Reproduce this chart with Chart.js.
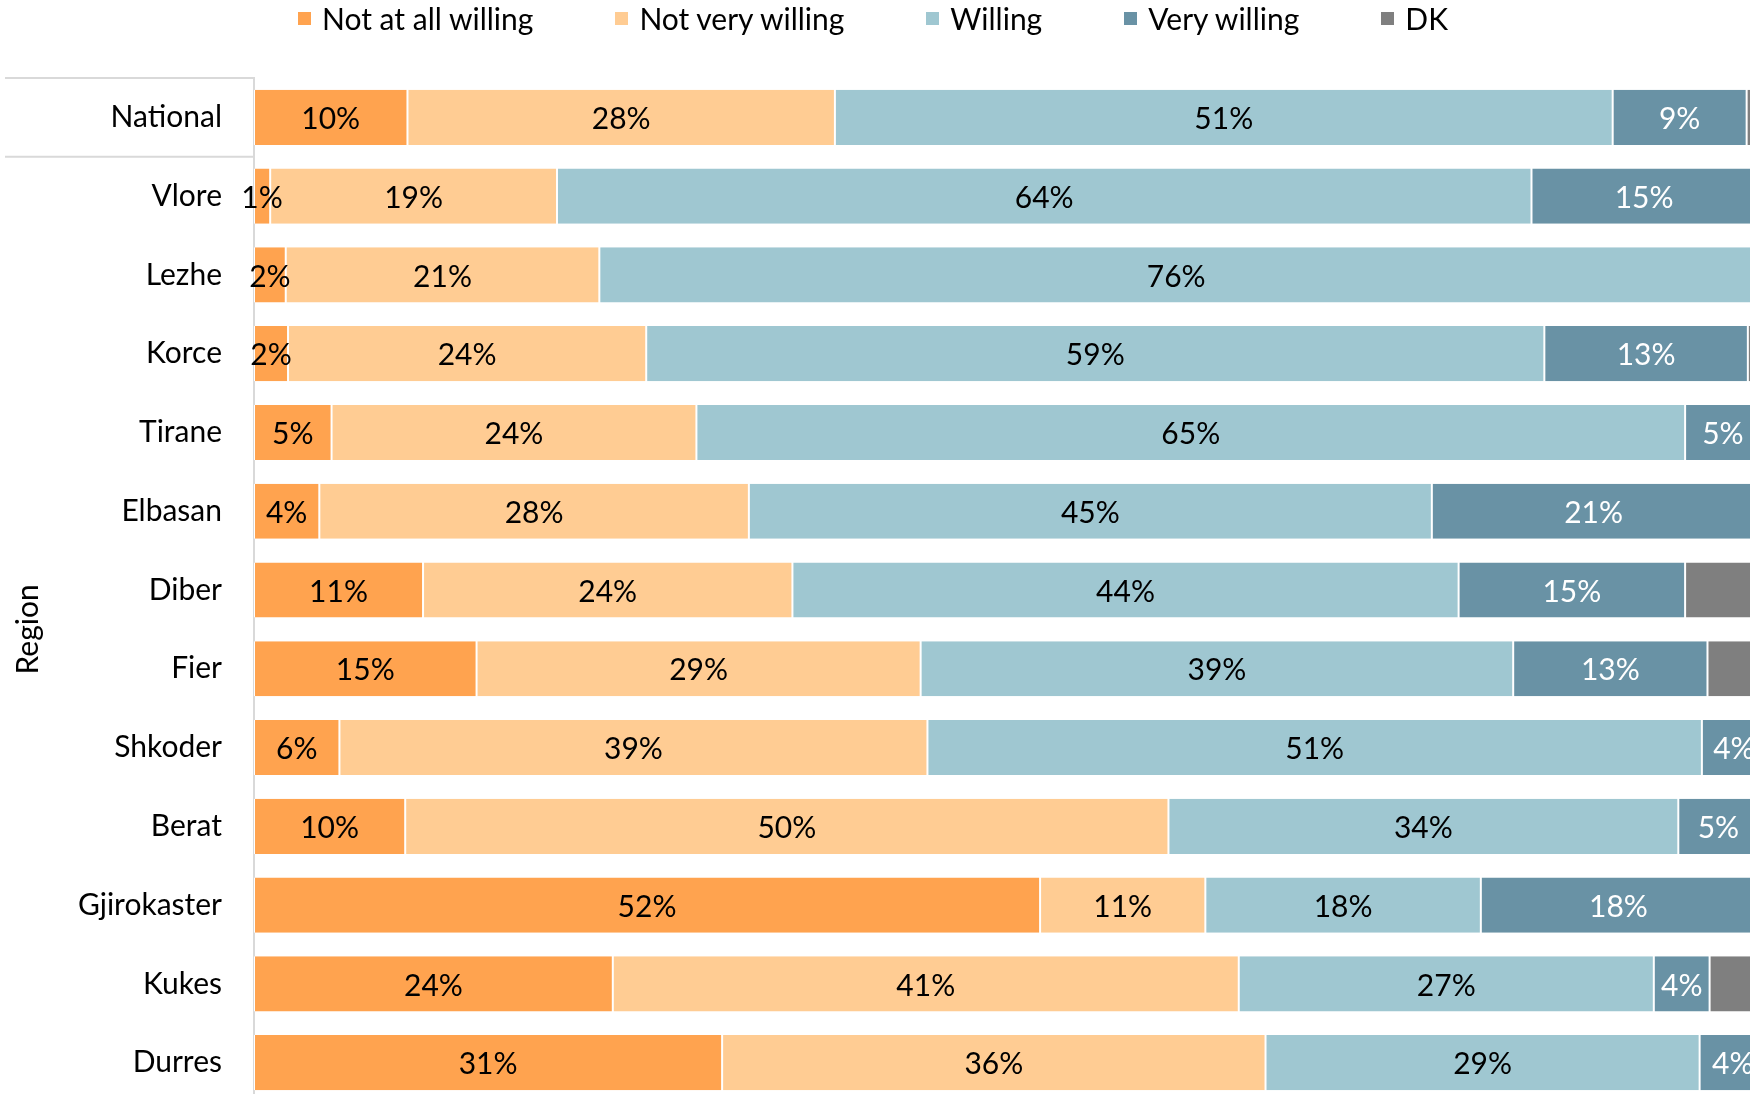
<!DOCTYPE html>
<html>
<head>
<meta charset="utf-8">
<script src="https://cdn.jsdelivr.net/npm/chart.js@4.4.0/dist/chart.umd.min.js"></script>
<style>
    html, body { margin: 0; padding: 0; background: #fff; overflow: hidden; width: 1750px; height: 1094px; }
    #legend { position: absolute; top: 0; left: 298px; display: flex; gap: 82px; font-family: Lato, sans-serif; font-size: 30px; line-height: 36px; color: #000; z-index: 2; }
    #legend .item { display: flex; align-items: center; white-space: nowrap; }
    #legend .box { width: 13px; height: 13px; margin-right: 11px; }
    #wrap { position: absolute; left: 0; top: 0; width: 1766px; height: 1102px; }
</style>
</head>
<body>
<div id="legend"></div>
<div id="wrap"><canvas id="chart"></canvas></div>
<script>
const regions = ['National', 'Vlore', 'Lezhe', 'Korce', 'Tirane', 'Elbasan', 'Diber', 'Fier', 'Shkoder', 'Berat', 'Gjirokaster', 'Kukes', 'Durres'];
const groupTitle = 'Region';
const seriesNames = ['Not at all willing', 'Not very willing', 'Willing', 'Very willing', 'DK'];

const notAtAll   = [10.15, 1.07, 2.1, 2.25, 5.13, 4.32, 11.18, 14.72, 5.65, 10.0, 51.99, 23.73, 30.96];
const notVery    = [28.27, 18.97, 20.74, 23.69, 24.13, 28.41, 24.43, 29.37, 38.89, 50.48, 10.93, 41.4, 35.94];
const willing    = [51.44, 64.45, 76.3, 59.4, 65.39, 45.17, 44.06, 39.19, 51.22, 33.72, 18.22, 27.45, 28.71];
const veryWill   = [8.86, 14.9, 0.86, 13.46, 5.0, 21.4, 14.98, 12.85, 4.24, 5.3, 18.2, 3.69, 4.39];
const dontKnow   = [1.28, 0.61, 0, 1.2, 0.35, 0.7, 5.35, 3.87, 0, 0.5, 0.66, 3.73, 0];

const colors = ['#FFA34F', '#FFCC93', '#9FC7D1', '#6992A5', '#7F7F7F'];
const labelColors = ['#000', '#000', '#000', '#fff', null];
const FONT = 'Lato, sans-serif';

// value labels inside each segment
const segmentLabels = {
    id: 'segmentLabels',
    afterDatasetsDraw(chart) {
        const ctx = chart.ctx;
        ctx.save();
        ctx.font = '30px ' + FONT;
        ctx.textAlign = 'center';
        ctx.textBaseline = 'middle';
        chart.data.datasets.forEach((ds, i) => {
            if (!labelColors[i]) return;
            ctx.fillStyle = labelColors[i];
            chart.getDatasetMeta(i).data.forEach((bar, j) => {
                const v = ds.data[j];
                if (v < 1) return;
                ctx.fillText(Math.round(v) + '%', (bar.x + bar.base) / 2, bar.y + 2);
            });
        });
        ctx.restore();
    }
};

// group separators and the "Region" title on the left
const groupAxis = {
    id: 'groupAxis',
    afterDraw(chart) {
        const ctx = chart.ctx;
        const y = chart.scales.y;
        const area = chart.chartArea;
        const split = y.getPixelForValue(0.5);
        ctx.save();
        ctx.strokeStyle = '#d9d9d9';
        ctx.lineWidth = 2;
        [area.top, split].forEach(py => {
            ctx.beginPath();
            ctx.moveTo(5, py);
            ctx.lineTo(area.left, py);
            ctx.stroke();
        });
        ctx.translate(28, (split + area.bottom) / 2);
        ctx.rotate(-Math.PI / 2);
        ctx.font = '30px ' + FONT;
        ctx.fillStyle = '#000';
        ctx.textAlign = 'center';
        ctx.textBaseline = 'middle';
        ctx.fillText(groupTitle, 0, 0);
        ctx.restore();
    }
};

const values = [notAtAll, notVery, willing, veryWill, dontKnow];

new Chart(document.getElementById('chart'), {
    type: 'bar',
    data: {
        labels: regions,
        datasets: values.map((data, i) => ({
            label: seriesNames[i],
            data: data,
            backgroundColor: colors[i],
            borderColor: '#fff',
            borderWidth: { left: 1, right: 1, top: 0, bottom: 0 },
            borderSkipped: false,
            barPercentage: 0.7,
            categoryPercentage: 1
        }))
    },
    options: {
        indexAxis: 'y',
        responsive: true,
        maintainAspectRatio: false,
        devicePixelRatio: 1,
        animation: false,
        layout: { padding: { top: 78, right: 0, bottom: 0, left: 0 } },
        plugins: {
            legend: { display: false },
            tooltip: { enabled: false }
        },
        scales: {
            x: { stacked: true, min: 0, max: 100, display: false },
            y: {
                stacked: true,
                grid: { display: false, drawTicks: false },
                border: { display: true, color: '#d9d9d9', width: 2 },
                ticks: { color: '#000', padding: 32, font: { family: FONT, size: 30 } },
                afterFit(scale) {
                    scale.width = 254;
                    scale.paddingTop = 0;
                    scale.paddingBottom = 0;
                }
            }
        }
    },
    plugins: [segmentLabels, groupAxis]
});

// legend
const legend = document.getElementById('legend');
seriesNames.forEach((name, i) => {
    const item = document.createElement('div');
    item.className = 'item';
    const box = document.createElement('span');
    box.className = 'box';
    box.style.background = colors[i];
    item.appendChild(box);
    item.appendChild(document.createTextNode(name));
    legend.appendChild(item);
});
</script>
</body>
</html>
